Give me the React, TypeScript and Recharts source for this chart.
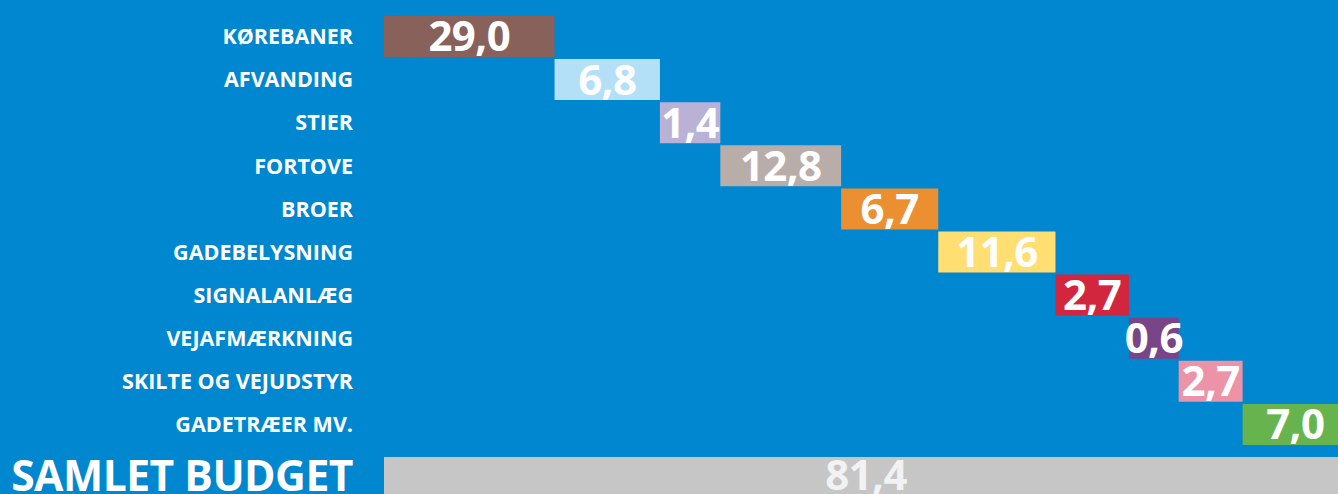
import { BarChart, Bar, XAxis, YAxis, Cell, LabelList } from 'recharts'

// Budget items (mio. kr.)
const categories = [
  'KØREBANER',
  'AFVANDING',
  'STIER',
  'FORTOVE',
  'BROER',
  'GADEBELYSNING',
  'SIGNALANLÆG',
  'VEJAFMÆRKNING',
  'SKILTE OG VEJUDSTYR',
  'GADETRÆER MV.',
]
const amounts = [29.0, 6.8, 1.4, 12.8, 6.7, 11.6, 2.7, 0.6, 2.7, 7.0]
// the original draws its steps out of proportion; these are the step lengths
// as they appear in the picture, in budget units (they add up to the total)
const drawnLength = [14.4, 8.9, 5.1, 10.2, 8.2, 9.9, 6.2, 4.2, 5.4, 8.9]
const colors = [
  '#87615A',
  '#B3E0F7',
  '#B9B1D6',
  '#B9ADAA',
  '#EB8F30',
  '#FFDE72',
  '#D2253E',
  '#794586',
  '#EC93A7',
  '#67B44E',
]
const totalName = 'SAMLET BUDGET'
const totalAmount = 81.4

const BG = '#0087CF'
const FONT = '"Open Sans", sans-serif'
const fmt = (v: number) => v.toFixed(1).replace('.', ',')

let acc = 0
const steps = categories.map((name, i) => {
  const start = acc
  acc += drawnLength[i]
  return { name, range: [start, acc], label: fmt(amounts[i]) }
})
const totalRow = [{ name: totalName, range: [0, totalAmount], label: fmt(totalAmount) }]

const StepTick = ({ x, y, payload }: any) => (
  <text x={x} y={y} dy="0.36em" textAnchor="end" fill="#fff" fontFamily={FONT} fontWeight={700} fontSize={21.5}>
    {payload.value}
  </text>
)

const TotalTick = ({ x, y, payload }: any) => (
  <text x={x} y={y} dy="0.36em" textAnchor="end" fill="#fff" fontFamily={FONT} fontWeight={700} fontSize={42.6} letterSpacing={-0.5}>
    {payload.value}
  </text>
)

export default function App() {
  return (
    <div style={{ position: 'absolute', left: 0, top: 0, width: 1338, height: 494, overflow: 'hidden', background: BG }}>
      <div style={{ position: 'absolute', left: 0, top: 0 }}>
        <BarChart width={1360} height={450} data={steps} layout="vertical" margin={{ top: 15, right: 12, bottom: 4, left: 0 }}>
          <XAxis type="number" domain={[0, totalAmount]} hide />
          <YAxis type="category" dataKey="name" width={384} axisLine={false} tickLine={false} tickSize={0} tickMargin={31} tick={<StepTick />} interval={0} />
          <Bar dataKey="range" barSize={41} isAnimationActive={false}>
            {steps.map((s, i) => (
              <Cell key={s.name} fill={colors[i]} />
            ))}
            <LabelList dataKey="label" position="center" fill="#fff" fontFamily={FONT} fontWeight={700} fontSize={42} letterSpacing={-0.6} />
          </Bar>
        </BarChart>
      </div>
      <div style={{ position: 'absolute', left: 0, top: 453 }}>
        <BarChart width={1360} height={45} data={totalRow} layout="vertical" margin={{ top: 2, right: 12, bottom: 2, left: 0 }}>
          <XAxis type="number" domain={[0, totalAmount]} hide />
          <YAxis type="category" dataKey="name" width={384} axisLine={false} tickLine={false} tickSize={0} tickMargin={31} tick={<TotalTick />} />
          <Bar dataKey="range" barSize={41} fill="#C6C6C6" isAnimationActive={false}>
            <LabelList dataKey="label" position="center" fill="#F2F2F2" fontFamily={FONT} fontWeight={700} fontSize={42} letterSpacing={-0.6} />
          </Bar>
        </BarChart>
      </div>
    </div>
  )
}
